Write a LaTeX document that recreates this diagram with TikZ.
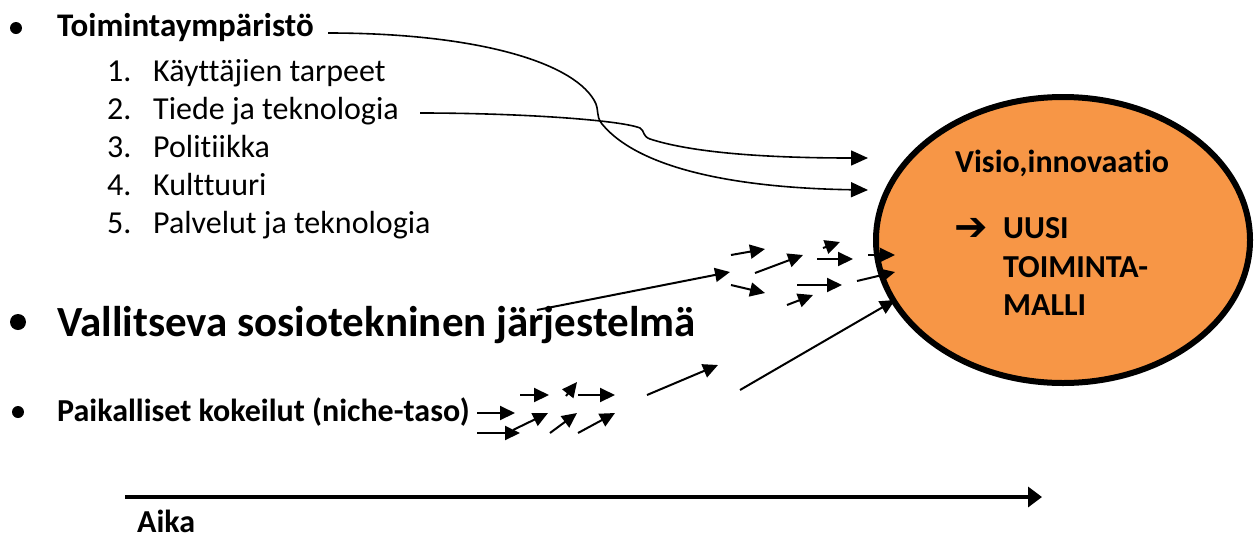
\documentclass[tikz,border=0pt]{standalone}
\usepackage{fontspec}
\setmainfont{Carlito}[Ligatures=NoCommon]
\newfontfamily\dejavu{DejaVu Sans}
\usetikzlibrary{arrows.meta,shapes.geometric}
\definecolor{orng}{HTML}{F79646}
\tikzset{
  txt/.style={inner sep=0pt, anchor=base west, font=\fontsize{32}{38}\selectfont},
  btxt/.style={inner sep=0pt, anchor=base west, font=\fontsize{32}{38}\selectfont\bfseries},
  bigtxt/.style={inner sep=0pt, anchor=base west, font=\fontsize{43}{50}\selectfont\bfseries},
  bdot/.style={circle, fill=black, inner sep=0pt, minimum size=#1},
  sarr/.style={line width=2pt, -{Triangle[length=15pt,width=14pt]}},
  carr/.style={line width=1.6pt, -{Triangle[length=17pt,width=15pt]}},
  tarr/.style={line width=4pt, -{Triangle[length=14pt,width=20pt]}}
}
\begin{document}
\begin{tikzpicture}[x=1pt,y=-1pt]
\useasboundingbox (0,0) rectangle (1256,539);
% ellipse
\node[ellipse, draw=black, line width=6pt, fill=orng, minimum width=374pt, minimum height=286pt] (vis) at (1063,240) {};
\node[btxt] (v1) at (955,172) {Visio,innovaatio};
\node[inner sep=0pt, anchor=base west, font=\fontsize{40}{44}\selectfont\dejavu\bfseries] (ar) at (954,240) {➔};
\node[btxt] (u1) at (1003,238) {UUSI};
\node[btxt] (u2) at (1003,277) {TOIMINTA-};
\node[btxt] (u3) at (1003,315) {MALLI};
% left texts
\node[bdot=12pt] (d1) at (16,28) {};
\node[btxt, font=\fontsize{33}{38}\selectfont\bfseries] (toim) at (57,36) {Toimintaympäristö};
\node[txt] (n1) at (107,81) {1.};
\node[txt] (i1) at (153,81) {Käyttäjien tarpeet};
\node[txt] (n2) at (107,119) {2.};
\node[txt] (i2) at (153,119) {Tiede ja teknologia};
\node[txt] (n3) at (107,157) {3.};
\node[txt] (i3) at (153,157) {Politiikka};
\node[txt] (n4) at (107,195) {4.};
\node[txt] (i4) at (153,195) {Kulttuuri};
\node[txt] (n5) at (107,233) {5.};
\node[txt] (i5) at (153,233) {Palvelut ja teknologia};
\node[bdot=16pt] (d2) at (18,322) {};
\node[bigtxt] (vall) at (57,336) {Vallitseva sosiotekninen järjestelmä};
\node[bdot=12pt] (d3) at (18,412) {};
\node[btxt] (paik) at (57,421) {Paikalliset kokeilut (niche-taso)};
\node[btxt] (aika) at (137,532) {Aika};
% curves
\coordinate (c1s) at (328,33);
\coordinate (c1e) at (868,190);
\coordinate (c2s) at (420,113);
\coordinate (c2e) at (868,158);
\draw[carr] (c1s) .. controls (470,33) and (570,60) .. (594,100)
  .. controls (600,110) and (595,115) .. (602,124)
  .. controls (640,170) and (740,188) .. (c1e);
\draw[carr] (c2s) .. controls (520,113) and (620,120) .. (640,128)
  .. controls (645,131) and (642,136) .. (650,139)
  .. controls (690,152) and (760,158) .. (c2e);
% time axis
\coordinate (t0) at (125,497);
\coordinate (t1) at (1042,497);
\draw[tarr] (t0) -- (t1);
% small arrows
\foreach \xa/\ya/\xb/\yb in {
  537/310/730/272, 731/255/765/249, 755/273/803/255, 731/285/765/293,
  823/248/840/242, 817/259/853/259, 797/285/842/285, 787/305/813/295,
  868/255/895/255, 857/281/895/272, 740/390/895/300, 647/395/718/365,
  477/413/515/413, 477/433/520/433, 513/430/548/413, 520/395/549/395,
  566/396/577/382, 578/395/615/395, 550/433/577/413, 578/433/615/413}{
  \coordinate (sa) at (\xa,\ya);
  \coordinate (sb) at (\xb,\yb);
  \draw[sarr] (sa) -- (sb);
}
\end{tikzpicture}
\end{document}
